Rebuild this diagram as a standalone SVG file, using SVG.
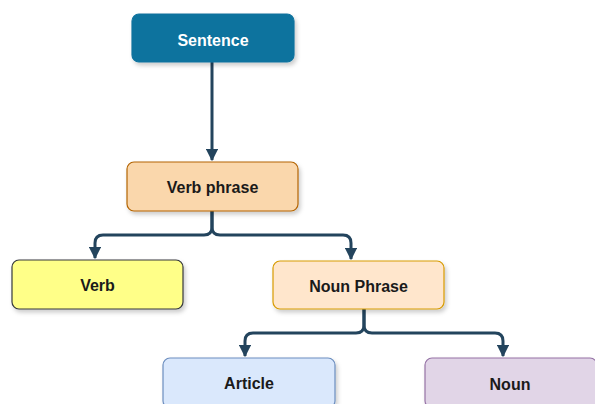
<svg xmlns="http://www.w3.org/2000/svg" width="595" height="404" viewBox="0 0 595 404">
<style>
text{font-family:"Liberation Sans",Arial,sans-serif;font-weight:bold;font-size:16px;text-anchor:middle;dominant-baseline:central;fill:#1a1a1a}
.box{stroke-width:1.2;filter:url(#sh)}
.edge{fill:none;stroke:#23445d;stroke-width:3;marker-end:url(#ah)}
</style>
<defs>
<filter id="sh" x="-10%" y="-10%" width="125%" height="135%">
<feDropShadow dx="2" dy="3" stdDeviation="2" flood-color="#000" flood-opacity="0.2"/>
</filter>
<marker id="ah" viewBox="0 0 10 10" refX="9" refY="5" markerWidth="4.2" markerHeight="4.2" markerUnits="strokeWidth" orient="auto">
<path d="M0,0 L10,5 L0,10 Z" fill="#23445d"/>
</marker>
</defs>
<rect width="595" height="404" fill="#fff"/>
<g id="edges">
<path class="edge" d="M212,62 V160"/>
<path class="edge" d="M212,211 V227 Q212,235 204,235 H103 Q95,235 95,243 V258"/>
<path class="edge" d="M212,211 V227 Q212,235 220,235 H343 Q351,235 351,243 V259"/>
<path class="edge" d="M364,309 V325 Q364,333 356,333 H253 Q245,333 245,341 V356"/>
<path class="edge" d="M364,309 V325 Q364,333 372,333 H495 Q503,333 503,341 V356"/>
</g>
<g id="sentence">
<rect class="box" x="132" y="14" width="162" height="48" rx="7" fill="#10739e" stroke="#10739e"/>
<text x="213" y="40" style="fill:#fff">Sentence</text>
</g>
<g id="verb-phrase">
<rect class="box" x="127" y="162" width="171" height="49" rx="7" fill="#fad7ac" stroke="#b46504"/>
<text x="212.5" y="187">Verb phrase</text>
</g>
<g id="verb">
<rect class="box" x="12" y="260" width="171" height="49" rx="7" fill="#ffff88" stroke="#36393d"/>
<text x="97.5" y="285">Verb</text>
</g>
<g id="noun-phrase">
<rect class="box" x="273" y="261" width="171" height="48" rx="7" fill="#ffe6cc" stroke="#d79b00"/>
<text x="358.5" y="286">Noun Phrase</text>
</g>
<g id="article">
<rect class="box" x="163" y="358" width="172" height="50" rx="7" fill="#dae8fc" stroke="#6c8ebf"/>
<text x="249" y="383">Article</text>
</g>
<g id="noun">
<rect class="box" x="425" y="358" width="172" height="50" rx="7" fill="#e1d5e7" stroke="#9673a6"/>
<text x="510" y="384">Noun</text>
</g>
</svg>
